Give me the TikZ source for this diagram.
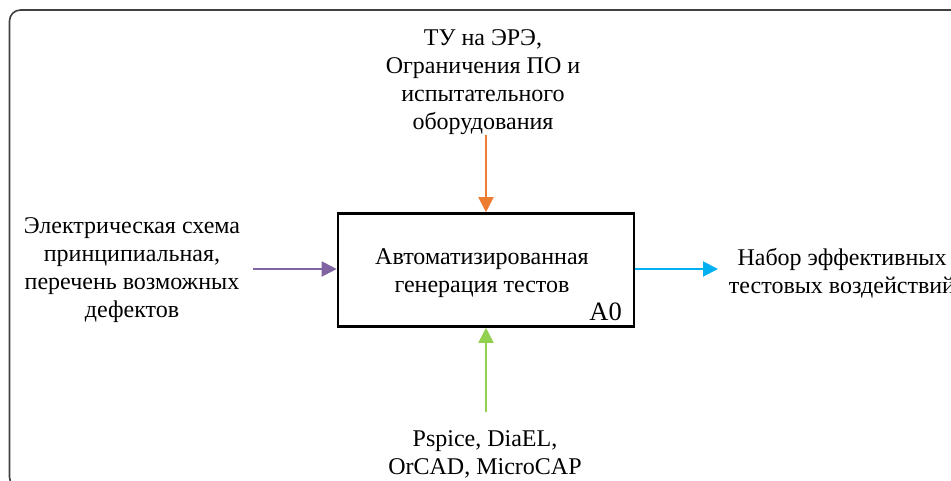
\documentclass[tikz,border=0pt]{standalone}
\usepackage{fontspec}
\setmainfont{Liberation Serif}
\usetikzlibrary{arrows.meta}
\definecolor{ctrl}{HTML}{ED7D31}
\definecolor{inp}{HTML}{8064A2}
\definecolor{outp}{HTML}{00B0F0}
\definecolor{mech}{HTML}{92D050}
\definecolor{frame}{HTML}{404040}
\begin{document}
\begin{tikzpicture}[x=1pt,y=-1pt,
  lbl/.style={align=center,font=\fontsize{24}{28}\selectfont,inner sep=0pt},
  flow/.style={line width=2pt,-{Triangle[length=15pt,width=15pt]}}]
\useasboundingbox (0,0) rectangle (951,480);
\clip (0,0) rectangle (951,480);
% outer frame
\draw[line width=1.6pt,draw=frame,rounded corners=11pt] (9.5,10) rectangle (1000,488);
% activity box
\node[draw,line width=2.6pt,minimum width=296pt,minimum height=113pt,inner sep=0pt] (box) at (486,270) {};
\node[lbl,anchor=north] (boxT) at (482,248) {Автоматизированная\\генерация тестов};
\node[anchor=base east,font=\fontsize{26.5}{26.5}\selectfont,inner sep=0pt] (id) at (622,320) {A0};
% labels
\node[lbl,anchor=north] (ctrlT) at (483,29) {ТУ на ЭРЭ,\\Ограничения ПО и\\испытательного\\оборудования};
\node[lbl,anchor=north] (inpT) at (132,217) {Электрическая схема\\принципиальная,\\перечень возможных\\дефектов};
\node[lbl,anchor=north] (outT) at (842,248) {Набор эффективных\\тестовых воздействий};
\node[lbl,anchor=north] (mechT) at (485,430) {Pspice, DiaEL,\\OrCAD, MicroCAP};
% connectors
\coordinate (cs) at (486,135);
\coordinate (is) at (253,269);
\coordinate (oe) at (718,269);
\coordinate (ms) at (486,412);
\draw[flow,ctrl] (cs) -- (box.north);
\draw[flow,inp] (is) -- (box.west |- is);
\draw[flow,outp] (box.east |- oe) -- (oe);
\draw[flow,mech] (ms) -- (box.south);
\end{tikzpicture}
\end{document}
